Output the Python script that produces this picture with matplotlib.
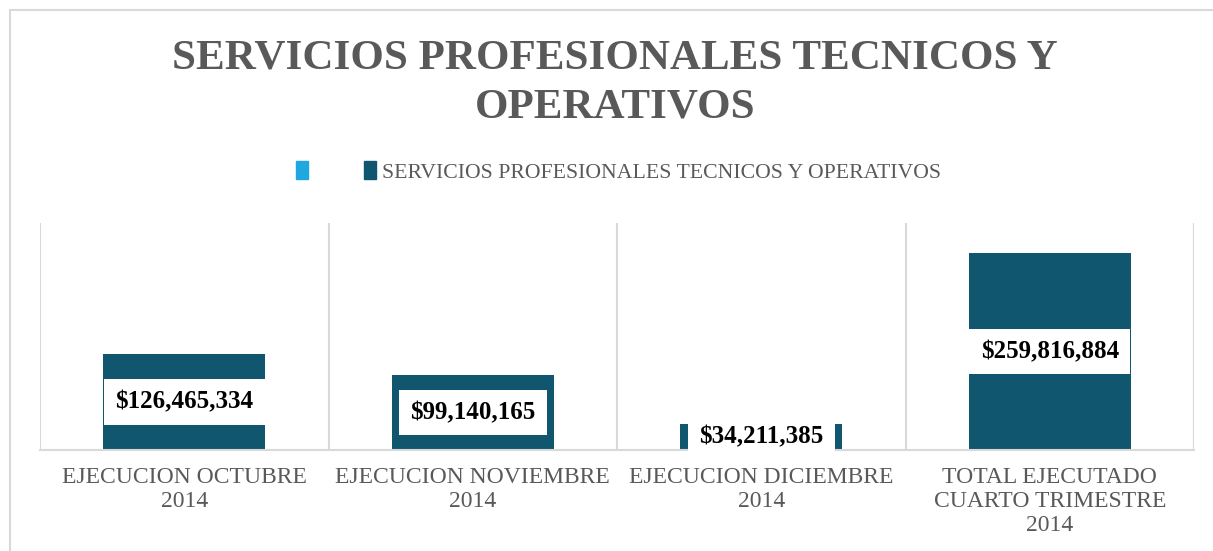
import matplotlib.pyplot as plt
import matplotlib.patches as mpatches

# Data
categories = ['EJECUCION OCTUBRE\n2014', 'EJECUCION NOVIEMBRE\n2014',
              'EJECUCION DICIEMBRE\n2014', 'TOTAL EJECUTADO\nCUARTO TRIMESTRE\n2014']
values = [126465334, 99140165, 34211385, 259816884]
series_name = 'SERVICIOS PROFESIONALES TECNICOS Y OPERATIVOS'
title = 'SERVICIOS PROFESIONALES TECNICOS Y\nOPERATIVOS'

bar_color = '#11566F'
legend_blue = '#1FA8E0'
grey_text = '#595959'
grid_color = '#D9D9D9'

plt.rcParams['font.family'] = ['Liberation Serif', 'DejaVu Serif']

fig = plt.figure(figsize=(12.13, 5.51), dpi=100)
ax = fig.add_axes([40 / 1213, 101 / 551, 1154 / 1213, 227 / 551])

x = range(len(values))
ax.bar(x, values, width=0.56, color=bar_color, zorder=2)

ax.set_xlim(-0.5, len(values) - 0.5)
ax.set_ylim(0, 300000000)
ax.set_yticks([])
ax.set_xticks(list(x))
ax.set_xticklabels(categories, color=grey_text, fontsize=17, linespacing=1.2)
ax.tick_params(axis='x', length=0, pad=12)

# vertical separators between categories
ax.set_xticks([i - 0.5 for i in range(len(values) + 1)], minor=True)
ax.tick_params(axis='x', which='minor', length=0)
ax.grid(True, axis='x', which='minor', color=grid_color, lw=1.5, zorder=0)

for side in ['top', 'right', 'left']:
    ax.spines[side].set_visible(False)
ax.spines['bottom'].set_color(grid_color)
ax.spines['bottom'].set_linewidth(1.5)

# value labels on white boxes
for i, v in enumerate(values):
    ax.text(i, v / 2, '${:,}'.format(v), ha='center', va='center',
            fontsize=18, fontweight='bold', color='black', zorder=3,
            bbox=dict(boxstyle='square,pad=0.45', fc='white', ec='none'))

fig.text(0.507, 0.85, title, ha='center', va='center', fontsize=31,
         fontweight='bold', color=grey_text, linespacing=1.38)

handles = [mpatches.Patch(color=legend_blue, label=' '),
           mpatches.Patch(color=bar_color, label=series_name)]
leg = fig.legend(handles=handles, loc='center', bbox_to_anchor=(0.51, 0.688),
                 ncol=2, frameon=False, fontsize=15.7, handlelength=0.55,
                 handleheight=0.85, handletextpad=0.3, columnspacing=2.0)
for t in leg.get_texts():
    t.set_color(grey_text)

# outer chart frame (only top and left visible in the crop)
fig.patches.append(mpatches.Rectangle((10 / 1213, -0.1), 1.2, 1 - 10 / 551 + 0.1,
                                      transform=fig.transFigure, fill=False,
                                      ec=grid_color, lw=1.5))

fig.savefig('out.png', dpi=100)
